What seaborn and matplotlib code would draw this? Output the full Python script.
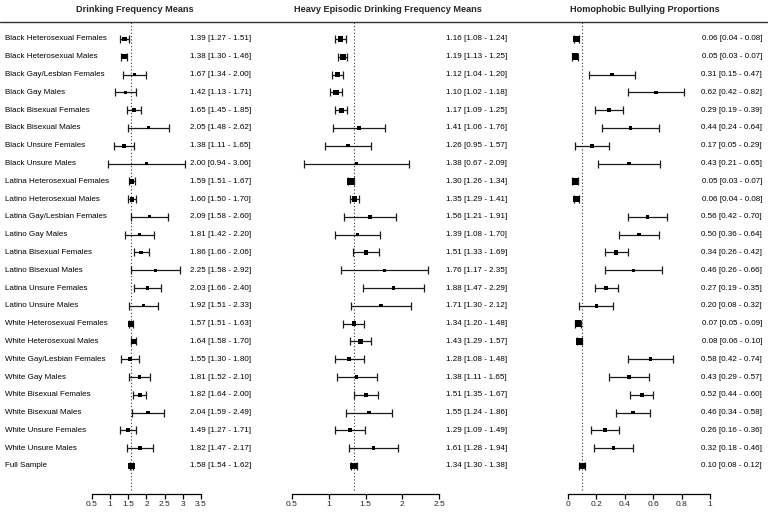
import matplotlib

matplotlib.use("Agg")
import matplotlib.pyplot as plt
import numpy as np
import pandas as pd
import seaborn as sns
from matplotlib.lines import Line2D

groups = [
    "Black Heterosexual Females", "Black Heterosexual Males", "Black Gay/Lesbian Females",
    "Black Gay Males", "Black Bisexual Females", "Black Bisexual Males",
    "Black Unsure Females", "Black Unsure Males",
    "Latina Heterosexual Females", "Latino Heterosexual Males", "Latina Gay/Lesbian Females",
    "Latino Gay Males", "Latina Bisexual Females", "Latino Bisexual Males",
    "Latina Unsure Females", "Latino Unsure Males",
    "White Heterosexual Females", "White Heterosexual Males", "White Gay/Lesbian Females",
    "White Gay Males", "White Bisexual Females", "White Bisexual Males",
    "White Unsure Females", "White Unsure Males", "Full Sample",
]

drink_est = [1.39, 1.38, 1.67, 1.42, 1.65, 2.05, 1.38, 2.00, 1.59, 1.60, 2.09, 1.81, 1.86, 2.25, 2.03, 1.92,
             1.57, 1.64, 1.55, 1.81, 1.82, 2.04, 1.49, 1.82, 1.58]
drink_lo = [1.27, 1.30, 1.34, 1.13, 1.45, 1.48, 1.11, 0.94, 1.51, 1.50, 1.58, 1.42, 1.66, 1.58, 1.66, 1.51,
            1.51, 1.58, 1.30, 1.52, 1.64, 1.59, 1.27, 1.47, 1.54]
drink_hi = [1.51, 1.46, 2.00, 1.71, 1.85, 2.62, 1.65, 3.06, 1.67, 1.70, 2.60, 2.20, 2.06, 2.92, 2.40, 2.33,
            1.63, 1.70, 1.80, 2.10, 2.00, 2.49, 1.71, 2.17, 1.62]

hed_est = [1.16, 1.19, 1.12, 1.10, 1.17, 1.41, 1.26, 1.38, 1.30, 1.35, 1.56, 1.39, 1.51, 1.76, 1.88, 1.71,
           1.34, 1.43, 1.28, 1.38, 1.51, 1.55, 1.29, 1.61, 1.34]
hed_lo = [1.08, 1.13, 1.04, 1.02, 1.09, 1.06, 0.95, 0.67, 1.26, 1.29, 1.21, 1.08, 1.33, 1.17, 1.47, 1.30,
          1.20, 1.29, 1.08, 1.11, 1.35, 1.24, 1.09, 1.28, 1.30]
hed_hi = [1.24, 1.25, 1.20, 1.18, 1.25, 1.76, 1.57, 2.09, 1.34, 1.41, 1.91, 1.70, 1.69, 2.35, 2.29, 2.12,
          1.48, 1.57, 1.48, 1.65, 1.67, 1.86, 1.49, 1.94, 1.38]

bully_est = [0.06, 0.05, 0.31, 0.62, 0.29, 0.44, 0.17, 0.43, 0.05, 0.06, 0.56, 0.50, 0.34, 0.46, 0.27, 0.20,
             0.07, 0.08, 0.58, 0.43, 0.52, 0.46, 0.26, 0.32, 0.10]
bully_lo = [0.04, 0.03, 0.15, 0.42, 0.19, 0.24, 0.05, 0.21, 0.03, 0.04, 0.42, 0.36, 0.26, 0.26, 0.19, 0.08,
            0.05, 0.06, 0.42, 0.29, 0.44, 0.34, 0.16, 0.18, 0.08]
bully_hi = [0.08, 0.07, 0.47, 0.82, 0.39, 0.64, 0.29, 0.65, 0.07, 0.08, 0.70, 0.64, 0.42, 0.66, 0.35, 0.32,
            0.09, 0.10, 0.74, 0.57, 0.60, 0.58, 0.36, 0.46, 0.12]

panels = [
    {"title": "Drinking Frequency Means", "est": drink_est, "lo": drink_lo, "hi": drink_hi,
     "ticks": [0.5, 1, 1.5, 2, 2.5, 3, 3.5], "px": (0, 256), "map": (0.5, 92, 3.5, 201),
     "text_px": 251, "title_px": 135},
    {"title": "Heavy Episodic Drinking Frequency Means", "est": hed_est, "lo": hed_lo, "hi": hed_hi,
     "ticks": [0.5, 1, 1.5, 2, 2.5], "px": (256, 512), "map": (0.5, 292, 2.5, 439),
     "text_px": 507, "title_px": 388},
    {"title": "Homophobic Bullying Proportions", "est": bully_est, "lo": bully_lo, "hi": bully_hi,
     "ticks": [0, 0.2, 0.4, 0.6, 0.8, 1], "px": (512, 768), "map": (0, 568, 1, 710),
     "text_px": 762, "title_px": 645},
]

W, H = 768, 512
row_top_px, row_step = 39, 17.79
ax_top_px, ax_bot_px = 22, 494
FS = 5.8

sns.set_theme(style="white")
plt.rcParams["font.family"] = ["Liberation Sans", "DejaVu Sans"]

fig = plt.figure(figsize=(W / 100, H / 100), dpi=100)

rows = -np.arange(len(groups))
ylim = (-(ax_bot_px - row_top_px) / row_step, (row_top_px - ax_top_px) / row_step)

for p in panels:
    left, right = p["px"]
    v0, p0, v1, p1 = p["map"]
    scale = (v1 - v0) / (p1 - p0)
    xlim = (v0 + (left - p0) * scale, v0 + (right - p0) * scale)
    ax = fig.add_axes([left / W, 1 - ax_bot_px / H, (right - left) / W, (ax_bot_px - ax_top_px) / H])

    df = pd.DataFrame({"group": groups, "est": p["est"], "lo": p["lo"], "hi": p["hi"], "row": rows})
    # square size shrinks with CI width, like inverse-variance weighting
    width = df["hi"] - df["lo"]
    rel = np.sqrt(width.min() / width)
    sizes = (1.4 + 4.2 * rel) ** 2 * 0.75

    ax.errorbar(df["est"], df["row"], xerr=[df["est"] - df["lo"], df["hi"] - df["est"]],
                fmt="none", ecolor="#1a1a1a", elinewidth=0.9, capsize=2.8, capthick=0.9, zorder=2)
    sns.scatterplot(x=df["est"], y=df["row"], marker="s", color="black", s=sizes,
                    linewidth=0, legend=False, ax=ax, zorder=3)

    ref = df["est"].iloc[-1]
    ax.vlines(ref, ylim[0] + 0.2, ylim[1], colors="#333333", linestyles=(0, (1, 2)), linewidth=0.8, zorder=1)

    tx = (p["text_px"] - left) / (right - left)
    for r, e, lo, hi in zip(df["row"], df["est"], df["lo"], df["hi"]):
        ax.text(tx, r, f"{e:.2f} [{lo:.2f} - {hi:.2f}]", transform=ax.get_yaxis_transform(),
                ha="right", va="center", fontsize=FS, color="black")

    if left == 0:
        for r, g in zip(df["row"], df["group"]):
            ax.text(5 / (right - left), r, g, transform=ax.get_yaxis_transform(),
                    ha="left", va="center", fontsize=FS, color="black")

    ax.set_xlim(xlim)
    ax.set_ylim(ylim)
    ax.set_xlabel("")
    ax.set_ylabel("")
    ax.set_yticks([])
    ax.set_xticks(p["ticks"])
    ax.set_xticklabels([f"{t:g}" for t in p["ticks"]], fontsize=6.0)
    ax.tick_params(axis="x", direction="out", length=3.5, width=0.9, color="black", pad=1.5, bottom=True)
    for side in ["left", "right", "top"]:
        ax.spines[side].set_visible(False)
    ax.spines["bottom"].set_bounds(p["ticks"][0], p["ticks"][-1])
    ax.spines["bottom"].set_color("black")
    ax.spines["bottom"].set_linewidth(0.9)
    ax.patch.set_alpha(0)

    fig.text(p["title_px"] / W, 1 - 9 / H, p["title"], ha="center", va="center",
             fontsize=6.6, fontweight="bold")

fig.add_artist(Line2D([0, 1], [1 - ax_top_px / H] * 2, transform=fig.transFigure,
                      color="#333333", linewidth=1.0))

fig.savefig("out.png", dpi=100)
plt.close(fig)
